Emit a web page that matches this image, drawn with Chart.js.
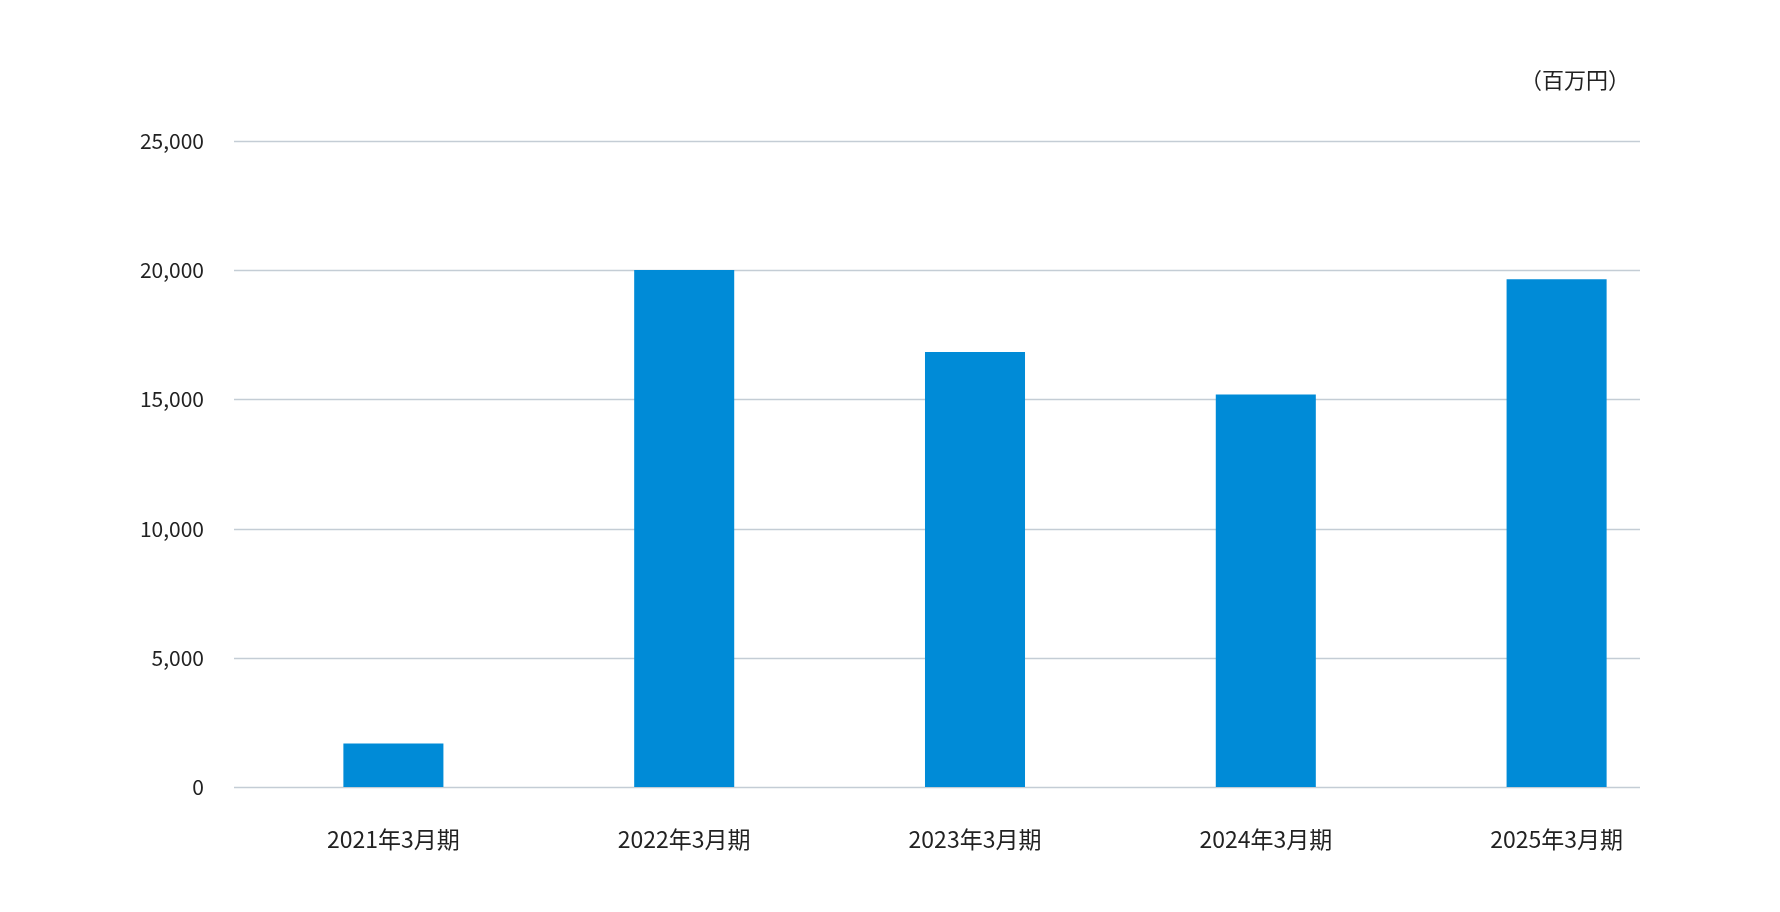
<!DOCTYPE html>
<html><head><meta charset="utf-8">
<script src="https://cdn.jsdelivr.net/npm/chart.js@4/dist/chart.umd.min.js"></script>
<style>html,body{margin:0;padding:0;background:#fff;}#wrap{width:1780px;height:912px;position:relative;}</style>
</head><body><div id="wrap"><canvas id="c" width="1780" height="912"></canvas></div>
<script>
const categories = ["2021年3月期","2022年3月期","2023年3月期","2024年3月期","2025年3月期"];
const values = [1680, 20010, 16830, 15190, 19650];
const yTicks = [0, 5000, 10000, 15000, 20000, 25000];
const unitLabel = "（百万円）";
const FONT = "'Noto Sans CJK JP','Noto Sans',sans-serif";

const gridPlugin = {
  id: 'grid',
  beforeDatasetsDraw(chart) {
    const ctx = chart.ctx, y = chart.scales.y;
    ctx.save();
    ctx.strokeStyle = '#c4cdd5'; ctx.lineWidth = 1.5;
    yTicks.forEach(v => {
      const py = Math.round(y.getPixelForValue(v)) + 0.5;
      ctx.beginPath(); ctx.moveTo(234, py); ctx.lineTo(1640, py); ctx.stroke();
    });
    ctx.fillStyle = '#222'; ctx.font = "22px " + FONT;
    ctx.textAlign = 'right'; ctx.textBaseline = 'middle';
    ctx.fillText(unitLabel, 1630, 80);
    ctx.restore();
  }
};

new Chart(document.getElementById('c'), {
  type: 'bar',
  data: { labels: categories, datasets: [{ data: values, backgroundColor: '#008bd7', barPercentage: 0.344, categoryPercentage: 1 }] },
  options: {
    responsive: false, animation: false,
    layout: { padding: { top: 141, right: 78, left: 0, bottom: 0 } },
    plugins: { legend: { display: false }, tooltip: { enabled: false } },
    scales: {
      x: {
        grid: { display: false }, border: { display: false },
        ticks: { color: '#222', font: { family: FONT, size: 23 }, padding: 30 },
        afterFit(s) { s.height = 125; }
      },
      y: {
        min: 0, max: 25000,
        grid: { display: false }, border: { display: false },
        afterBuildTicks(s) { s.ticks = yTicks.map(v => ({ value: v })); },
        ticks: { color: '#222', font: { family: FONT, size: 21 }, padding: 36,
          callback: v => v.toLocaleString('en-US') },
        afterFit(s) { s.width = 248; }
      }
    }
  },
  plugins: [gridPlugin]
});
</script></body></html>
